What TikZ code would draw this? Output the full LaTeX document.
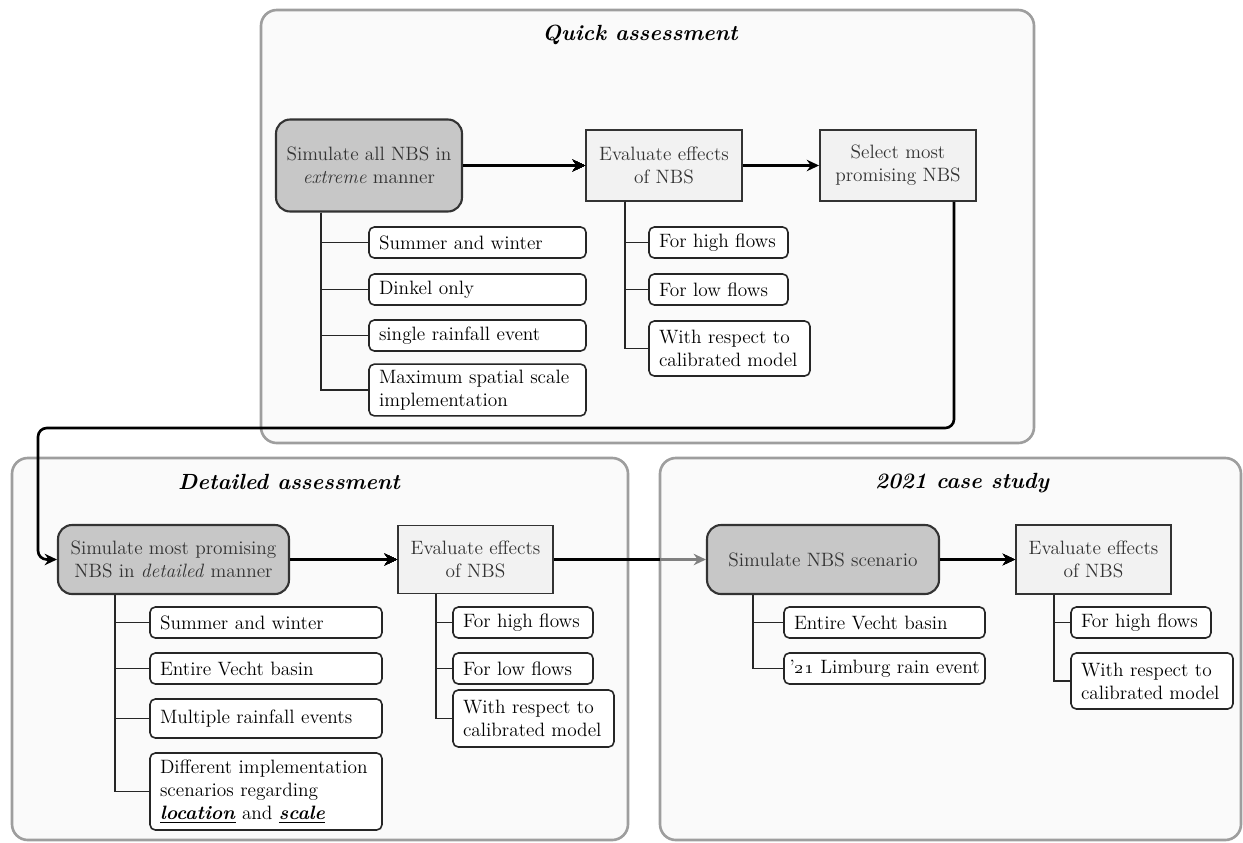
\documentclass[tikz,border=0pt]{standalone}
\usepackage{tikz}
\usetikzlibrary{calc,positioning,arrows.meta}
\newcommand{\twig}[3]
	{
	\draw[twig] ($(#1.south west)+(#2,0)$) |- (#3.west);
	}

\begin{document}
\begin{tikzpicture}[x=0.02cm,y=-0.02cm,
    font=\fontsize{11}{13}\selectfont,
    panel/.style={draw=black!38,line width=1.5pt,fill=black!2,rounded corners=9pt},
    paneltitle/.style={font=\fontsize{12.5}{15}\selectfont\bfseries\itshape},
    simbox/.style={draw=black!80,line width=1.2pt,fill=black!22,rounded corners=8pt,align=center,text=black!80},
    evalbox/.style={draw=black!80,line width=1.1pt,fill=black!5,align=center,text=black!80},
    subbox/.style={draw=black!85,line width=0.9pt,fill=white,rounded corners=3pt,align=left,inner xsep=0.2cm,text width=#1},
    flow/.style={-{Stealth[length=7pt,width=6.5pt]},line width=1.5pt},
    twig/.style={line width=1.1pt,draw=black!85}]
    \useasboundingbox (0,0) rectangle (1243,842);
    % panels
    \draw[panel] (261,10) rectangle (1034,443);
    \draw[panel] (12,458) rectangle (628,840);
    \draw[panel] (660,458) rectangle (1241,840);
    \node[paneltitle] (qtitle) at (640,35) {Quick assessment};
    \node[paneltitle] (dtitle) at (289,482) {Detailed assessment};
    \node[paneltitle] (ctitle) at (962,483) {2021 case study};
    % quick assessment
    \node[simbox,minimum width=3.72cm,minimum height=1.84cm] (qsim) at (369,165.5) {Simulate all NBS in\\\textit{extreme} manner};
    \node[evalbox,minimum width=3.12cm,minimum height=1.42cm] (qeval) at (664,165.5) {Evaluate effects\\of NBS};
    \node[evalbox,minimum width=3.12cm,minimum height=1.42cm] (qsel) at (898,165.5) {Select most\\promising NBS};
    \node[subbox=3.94cm,minimum height=0.62cm] (qs1) at (477.5,242.5) {Summer and winter};
    \node[subbox=3.94cm,minimum height=0.62cm] (qs2) at (477.5,289.5) {Dinkel only};
    \node[subbox=3.94cm,minimum height=0.62cm] (qs3) at (477.5,335.5) {single rainfall event};
    \node[subbox=3.94cm,minimum height=0.92cm] (qs4) at (477.5,390) {Maximum spatial scale\\implementation};
    \node[subbox=2.38cm,minimum height=0.62cm] (qe1) at (718.5,242.5) {For high flows};
    \node[subbox=2.38cm,minimum height=0.62cm] (qe2) at (718.5,289.5) {For low flows};
    \node[subbox=2.82cm,minimum height=1.10cm] (qe3) at (729.5,348.5) {With respect to\\calibrated model};
    \foreach \s in {qs1,qs2,qs3,qs4} \twig{qsim}{46}{\s}
    \foreach \s in {qe1,qe2,qe3} \twig{qeval}{40}{\s}
    \draw[flow] (qsim) -- (qeval);
    \draw[flow] (qeval) -- (qsel);
    % detailed assessment
    \node[simbox,minimum width=4.62cm,minimum height=1.38cm] (dsim) at (173.5,559.5) {Simulate most promising\\NBS in \textit{detailed} manner};
    \node[evalbox,minimum width=3.10cm,minimum height=1.36cm] (deval) at (475.5,559.5) {Evaluate effects\\of NBS};
    \node[subbox=4.24cm,minimum height=0.62cm] (ds1) at (266,622.5) {Summer and winter};
    \node[subbox=4.24cm,minimum height=0.62cm] (ds2) at (266,668.5) {Entire Vecht basin};
    \node[subbox=4.24cm,minimum height=0.78cm] (ds3) at (266,718.5) {Multiple rainfall events};
    \node[subbox=4.24cm,minimum height=1.54cm] (ds4) at (266,791.5) {Different implementation\\scenarios regarding\\\underline{\textbf{\textit{location}}} and \underline{\textbf{\textit{scale}}}};
    \node[subbox=2.40cm,minimum height=0.62cm] (de1) at (523,622.5) {For high flows};
    \node[subbox=2.40cm,minimum height=0.62cm] (de2) at (523,668.5) {For low flows};
    \node[subbox=2.82cm,minimum height=1.14cm] (de3) at (533.5,718.5) {With respect to\\calibrated model};
    \foreach \s in {ds1,ds2,ds3,ds4} \twig{dsim}{58}{\s}
    \foreach \s in {de1,de2,de3} \twig{deval}{39}{\s}
    \draw[flow] (dsim) -- (deval);
    % 2021 case study
    \node[simbox,minimum width=4.64cm,minimum height=1.38cm] (csim) at (823,559.5) {Simulate NBS scenario};
    \node[evalbox,minimum width=3.10cm,minimum height=1.38cm] (ceval) at (1093.5,559.5) {Evaluate effects\\of NBS};
    \node[subbox=3.62cm,minimum height=0.62cm] (cs1) at (884.5,622.5) {Entire Vecht basin};
    \node[subbox=3.80cm,inner xsep=0.11cm,minimum height=0.62cm] (cs2) at (884.5,668.5) {\mbox{'\oldstylenums{21} Limburg rain event}};
    \node[subbox=2.40cm,minimum height=0.62cm] (ce1) at (1141,622.5) {For high flows};
    \node[subbox=2.84cm,minimum height=1.12cm] (ce2) at (1152,681) {With respect to\\calibrated model};
    \foreach \s in {cs1,cs2} \twig{csim}{47}{\s}
    \foreach \s in {ce1,ce2} \twig{ceval}{39}{\s}
    \draw[flow] (csim) -- (ceval);
    % links between panels
    \coordinate (bend) at (38,428);
    \coordinate (caseedge) at (660,559.5);
    \draw[flow,rounded corners=5pt] ($(qsel.south)+(56,0)$) |- (bend) |- (dsim.west);
    \draw[flow,draw=black!50] (deval) -- (csim);
    \draw[line width=1.5pt] (deval.east) -- (caseedge);
\end{tikzpicture}
\end{document}
